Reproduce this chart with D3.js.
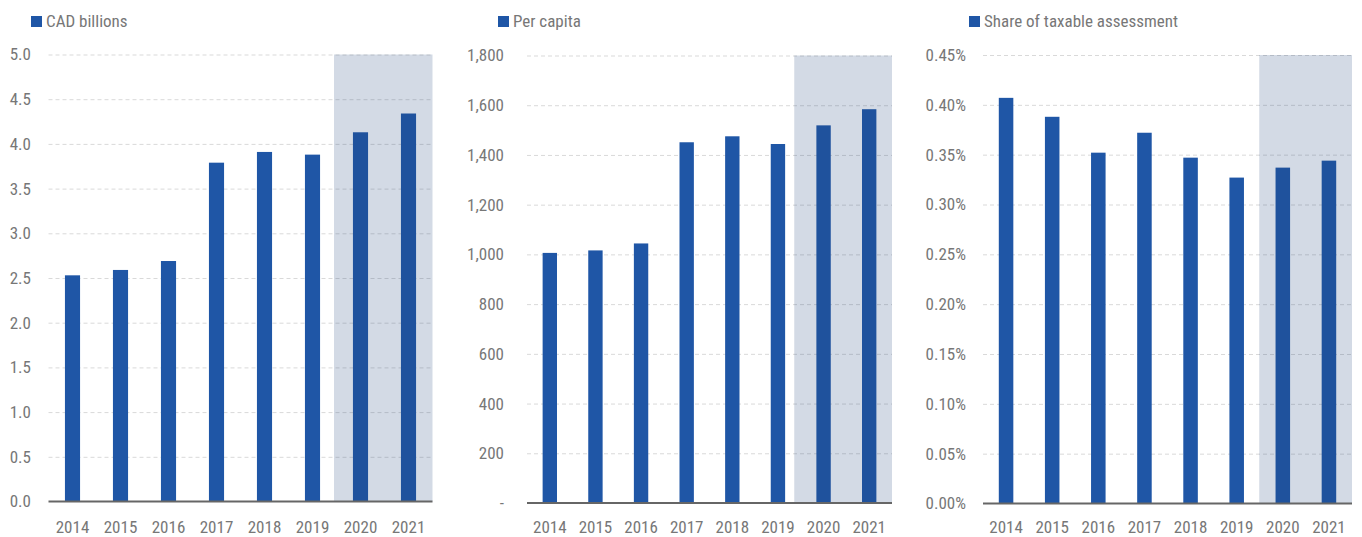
<!DOCTYPE html>
<html lang="en">

<head>
    <meta charset="utf-8">
    <title>Bar panels</title>
    <script src="https://cdn.jsdelivr.net/npm/d3@7"></script>
</head>
<style>
    body {
        margin: 0;
        background: #fff;
    }

    svg text {
        font-family: "Liberation Sans Narrow", "Arial Narrow", "Roboto Condensed", "DejaVu Sans Condensed", sans-serif;
        font-size: 17px;
        fill: #777;
    }
</style>

<body>
    <script type="text/javascript">
        // data
        const years = ["2014", "2015", "2016", "2017", "2018", "2019", "2020", "2021"];
        const forecastYears = ["2020", "2021"];

        const cadBillions = [2.53, 2.59, 2.69, 3.79, 3.91, 3.88, 4.13, 4.34];
        const perCapita = [1006, 1016, 1044, 1451, 1475, 1444, 1519, 1584];
        const shareOfAssessment = [0.407, 0.388, 0.352, 0.372, 0.347, 0.327, 0.337, 0.344]; // percent

        const cadTicks = [0, 0.5, 1, 1.5, 2, 2.5, 3, 3.5, 4, 4.5, 5];
        const perCapitaTicks = [0, 200, 400, 600, 800, 1000, 1200, 1400, 1600, 1800];
        const shareTicks = [0, 0.05, 0.1, 0.15, 0.2, 0.25, 0.3, 0.35, 0.4, 0.45];

        const legendLabels = ["CAD billions", "Per capita", "Share of taxable assessment"];

        const barColor = "#1f56a6";
        const width = 1362;
        const height = 537;

        var svg = d3.select("body").append("svg")
            .attr("width", width)
            .attr("height", height);

        // layout of each panel (pixels)
        let panels = [
            {
                values: cadBillions, ticks: cadTicks, label: legendLabels[0],
                fmt: d => d3.format(".1f")(d),
                left: 48.5, right: 432.5, top: 54.5, bottom: 501.5,
                labelRight: 31, legendX: 31, shadePad: 2.5
            },
            {
                values: perCapita, ticks: perCapitaTicks, label: legendLabels[1],
                fmt: d => d == 0 ? "-" : d3.format(",")(d),
                left: 527, right: 892, top: 55.5, bottom: 503,
                labelRight: 504, legendX: 498, shadePad: 6.5
            },
            {
                values: shareOfAssessment, ticks: shareTicks, label: legendLabels[2],
                fmt: d => d.toFixed(2) + "%",
                left: 983, right: 1352, top: 55, bottom: 503.5,
                labelRight: 966, legendX: 969, shadePad: 0.5
            }
        ];

        const labelBaseline = 533;

        panels.forEach((p) => {
            let g = svg.append("g");
            let rows = years.map((yr, i) => ({ year: yr, value: p.values[i] }));

            let x = d3.scaleBand()
                .domain(years)
                .range([p.left, p.right])
                .paddingInner(0.685)
                .paddingOuter(0.685 / 2);

            let y = d3.scaleLinear()
                .domain([0, d3.max(p.ticks)])
                .range([p.bottom, p.top]);

            // dashed gridlines
            let grid = g.append("g")
                .attr("transform", `translate(${p.left},0)`)
                .call(d3.axisLeft(y).tickValues(p.ticks.slice(1)).tickSize(-(p.right - p.left)).tickFormat(""));
            grid.select(".domain").remove();
            grid.selectAll("line")
                .attr("stroke", "#d9d9d9")
                .attr("stroke-width", 1)
                .attr("stroke-dasharray", "4,3");

            // bars
            g.selectAll("rect.bar")
                .data(rows)
                .join("rect")
                .attr("class", "bar")
                .attr("x", d => x(d.year))
                .attr("width", x.bandwidth())
                .attr("y", d => y(d.value))
                .attr("height", d => y(0) - y(d.value))
                .attr("fill", barColor);

            // forecast shading, drawn over the bars
            let gap = (x.step() - x.bandwidth()) / 2;
            let x0 = x(forecastYears[0]) - gap - p.shadePad;
            g.append("rect")
                .attr("x", x0)
                .attr("y", y(d3.max(p.ticks)))
                .attr("width", p.right - x0)
                .attr("height", y(0) - y(d3.max(p.ticks)))
                .attr("fill", "rgb(35,70,125)")
                .attr("fill-opacity", 0.2);

            // baseline
            g.append("line")
                .attr("x1", p.left)
                .attr("x2", p.right)
                .attr("y1", y(0))
                .attr("y2", y(0))
                .attr("stroke", "#666")
                .attr("stroke-width", 2);

            // y tick labels
            let yAxis = g.append("g")
                .attr("transform", `translate(${p.left},0)`)
                .call(d3.axisLeft(y).tickValues(p.ticks).tickSize(0)
                    .tickPadding(p.left - p.labelRight).tickFormat(p.fmt));
            yAxis.select(".domain").remove();
            yAxis.selectAll("text").attr("font-size", null).attr("font-family", null).attr("fill", null);

            // x tick labels
            let xAxis = g.append("g")
                .attr("transform", `translate(0,${y(0)})`)
                .call(d3.axisBottom(x).tickSize(0));
            xAxis.select(".domain").remove();
            xAxis.selectAll("text")
                .attr("y", labelBaseline - y(0))
                .attr("dy", 0)
                .attr("font-size", null).attr("font-family", null).attr("fill", null);

            // legend
            g.append("rect")
                .attr("x", p.legendX)
                .attr("y", 16)
                .attr("width", 11)
                .attr("height", 11)
                .attr("fill", barColor);
            g.append("text")
                .attr("x", p.legendX + 15)
                .attr("y", 27)
                .text(p.label);
        });
    </script>

</body>

</html>
